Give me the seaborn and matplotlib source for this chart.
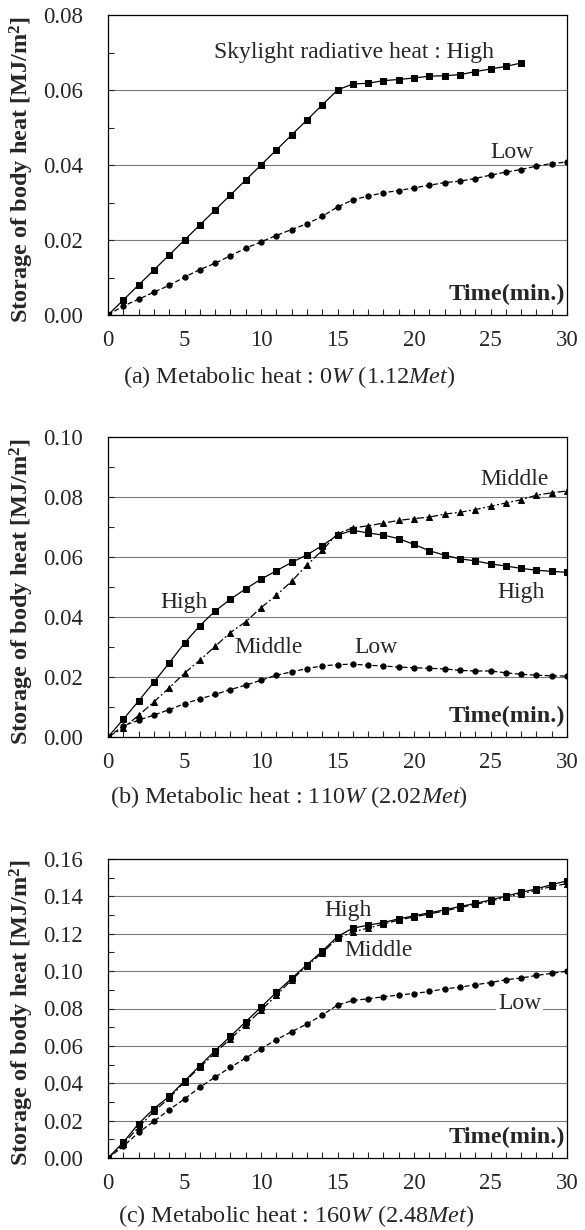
"""
Storage of body heat under skylight radiative heat, three metabolic levels
"""

import matplotlib
matplotlib.use('Agg')
import matplotlib.pyplot as plt
import seaborn as sns
from matplotlib.ticker import MultipleLocator

# ---- data (minutes and stored heat, MJ/m2) ----
minutes = list(range(0, 31))
minutes_a_high = list(range(0, 28))

a_high = [0.000, 0.004, 0.008, 0.012, 0.016, 0.020, 0.024, 0.028, 0.032, 0.036,
          0.040, 0.044, 0.048, 0.052, 0.056, 0.060, 0.0616, 0.0618, 0.0625, 0.0628,
          0.0632, 0.0637, 0.0638, 0.0641, 0.0649, 0.0656, 0.0663, 0.0672]
a_low = [0.000, 0.0024, 0.0042, 0.0061, 0.0079, 0.0101, 0.0121, 0.0138, 0.0158, 0.0178,
         0.0195, 0.0212, 0.0228, 0.0243, 0.0263, 0.0288, 0.0307, 0.0317, 0.0326, 0.0332,
         0.0339, 0.0346, 0.0353, 0.0357, 0.0364, 0.0373, 0.0381, 0.0388, 0.0397, 0.0404,
         0.0408]

b_high = [0.000, 0.0059, 0.0120, 0.0183, 0.0247, 0.0313, 0.0371, 0.0420, 0.0459, 0.0494,
          0.0526, 0.0554, 0.0582, 0.0607, 0.0638, 0.0673, 0.0689, 0.0680, 0.0673, 0.0661,
          0.0642, 0.0621, 0.0606, 0.0594, 0.0587, 0.0577, 0.0570, 0.0562, 0.0556, 0.0552,
          0.0549]
b_middle = [0.000, 0.0030, 0.0072, 0.0117, 0.0164, 0.0213, 0.0256, 0.0302, 0.0348, 0.0384,
            0.0431, 0.0472, 0.0519, 0.0573, 0.0622, 0.0678, 0.0697, 0.0704, 0.0713, 0.0722,
            0.0728, 0.0733, 0.0743, 0.0749, 0.0758, 0.0769, 0.0780, 0.0791, 0.0806, 0.0814,
            0.0820]
b_low = [0.000, 0.0037, 0.0056, 0.0073, 0.0091, 0.0111, 0.0127, 0.0142, 0.0158, 0.0173,
         0.0189, 0.0206, 0.0217, 0.0228, 0.0237, 0.0241, 0.0243, 0.0239, 0.0237, 0.0233,
         0.0231, 0.0229, 0.0227, 0.0222, 0.0220, 0.0220, 0.0214, 0.0209, 0.0206, 0.0204,
         0.0203]

c_high = [0.000, 0.0084, 0.0184, 0.0264, 0.0330, 0.0412, 0.0494, 0.0574, 0.0651, 0.0729,
          0.0807, 0.0886, 0.0961, 0.1034, 0.1107, 0.1185, 0.1230, 0.1246, 0.1260, 0.1280,
          0.1296, 0.1312, 0.1328, 0.1346, 0.1362, 0.1381, 0.1401, 0.1422, 0.1440, 0.1463,
          0.1483]
c_middle = [0.000, 0.0075, 0.0165, 0.0250, 0.0320, 0.0408, 0.0485, 0.0562, 0.0638, 0.0712,
            0.0790, 0.0870, 0.0953, 0.1028, 0.1098, 0.1175, 0.1210, 0.1230, 0.1252, 0.1273,
            0.1290, 0.1306, 0.1322, 0.1340, 0.1357, 0.1375, 0.1395, 0.1415, 0.1432, 0.1453,
            0.1468]
c_low = [0.000, 0.0062, 0.0137, 0.0196, 0.0258, 0.0316, 0.0378, 0.0433, 0.0485, 0.0535,
         0.0585, 0.0633, 0.0676, 0.0717, 0.0765, 0.0818, 0.0843, 0.0852, 0.0863, 0.0872,
         0.0880, 0.0891, 0.0905, 0.0914, 0.0927, 0.0939, 0.0954, 0.0963, 0.0977, 0.0988,
         0.1000]

captions = [r"(a) Metabolic heat : 0$\mathit{W}$ (1.12$\mathit{Met}$)",
            r"(b) Metabolic heat : 110$\mathit{W}$ (2.02$\mathit{Met}$)",
            r"(c) Metabolic heat : 160$\mathit{W}$ (2.48$\mathit{Met}$)"]
y_max = [0.08, 0.10, 0.16]

sns.set_style("ticks")
plt.rcParams['font.family'] = ['Liberation Serif', 'DejaVu Serif']
plt.rcParams['mathtext.fontset'] = 'custom'
plt.rcParams['mathtext.rm'] = 'Liberation Serif'
plt.rcParams['mathtext.it'] = 'Liberation Serif:italic'
plt.rcParams['mathtext.bf'] = 'Liberation Serif:bold'

W, H = 585, 1230
fig = plt.figure(figsize=(W / 100, H / 100), dpi=100)

# axes boxes in pixels: (top, bottom)
boxes = [(15, 315), (437, 737), (859, 1158)]
left_px, right_px = 108, 567

axes = []
for (top, bot) in boxes:
    ax = fig.add_axes([left_px / W, 1 - bot / H, (right_px - left_px) / W, (bot - top) / H])
    axes.append(ax)

high_kw = dict(color='black', marker='s', markersize=4.0, linewidth=0.9,
               linestyle='-', markeredgecolor='black')
low_kw = dict(color='black', marker='o', markersize=3.8, linewidth=0.9,
              linestyle=(0, (4, 2)), markeredgecolor='black')
mid_kw = dict(color='black', marker='^', markersize=4.2, linewidth=0.9,
              linestyle=(0, (6, 2, 1.5, 2)), markeredgecolor='black')

# (a)
sns.lineplot(x=minutes_a_high, y=a_high, ax=axes[0], estimator=None, **high_kw)
sns.lineplot(x=minutes, y=a_low, ax=axes[0], estimator=None, **low_kw)
# (b)
sns.lineplot(x=minutes, y=b_high, ax=axes[1], estimator=None, **high_kw)
sns.lineplot(x=minutes, y=b_middle, ax=axes[1], estimator=None, **mid_kw)
sns.lineplot(x=minutes, y=b_low, ax=axes[1], estimator=None, **low_kw)
# (c)
sns.lineplot(x=minutes, y=c_middle, ax=axes[2], estimator=None, **mid_kw)
sns.lineplot(x=minutes, y=c_high, ax=axes[2], estimator=None, **high_kw)
sns.lineplot(x=minutes, y=c_low, ax=axes[2], estimator=None, **low_kw)

for i, ax in enumerate(axes):
    ym = y_max[i]
    ax.set_xlim(0, 30)
    ax.set_ylim(0, ym)
    ax.xaxis.set_major_locator(MultipleLocator(5))
    ax.xaxis.set_minor_locator(MultipleLocator(1))
    ax.yaxis.set_major_locator(MultipleLocator(0.02))
    ax.yaxis.set_minor_locator(MultipleLocator(0.01))
    ax.yaxis.set_major_formatter(plt.FormatStrFormatter('%.2f'))
    ax.tick_params(axis='both', which='both', direction='in', length=4, width=0.8,
                   labelsize=16.5)
    ax.tick_params(axis='y', which='major', pad=18)
    ax.tick_params(axis='x', which='major', pad=11)
    for s in ax.spines.values():
        s.set_visible(True)
        s.set_linewidth(0.9)
        s.set_color('black')
    ax.grid(False)
    for yv in [v * 0.02 for v in range(1, int(round(ym / 0.02)))]:
        ax.axhline(yv, color='#7a7a7a', linewidth=0.8, zorder=0)
    ax.set_xlabel('')
    ax.set_ylabel('')
    ax.text(29.9, ym * 0.07, 'Time(min.)', fontsize=17.5, fontweight='bold',
            ha='right', va='center')

    top, bot = boxes[i]
    fig.text(22 / W, 1 - ((top + bot) / 2 + 4) / H, r'Storage of body heat [MJ/m$^\mathbf{2}$]',
             rotation=90, ha='center', va='center', fontsize=17.5, fontweight='bold')

# captions
fig.text(289 / W, 1 - 377 / H, captions[0], ha='center', va='center', fontsize=17.5)
fig.text(289 / W, 1 - 797 / H, captions[1], ha='center', va='center', fontsize=17.5)
fig.text(296 / W, 1 - 1216 / H, captions[2], ha='center', va='center', fontsize=17.5)

# curve labels
lab = dict(fontsize=17, ha='center', va='center')
axes[0].text(16.1, 0.0699, 'Skylight radiative heat : High', **lab)
axes[0].text(26.4, 0.0432, 'Low', **lab)
axes[1].text(26.6, 0.0857, 'Middle', **lab)
axes[1].text(27.0, 0.0483, 'High', **lab)
axes[1].text(5.0, 0.0450, 'High', **lab)
axes[1].text(10.5, 0.0300, 'Middle', **lab)
axes[1].text(17.5, 0.0300, 'Low', **lab)
axes[2].text(15.7, 0.1327, 'High', **lab)
axes[2].text(17.7, 0.1113, 'Middle', **lab)
axes[2].text(26.9, 0.0829, 'Low',
             bbox=dict(facecolor='white', edgecolor='none', pad=1.5), **lab)

plt.savefig('out.png', dpi=100, facecolor='white')
